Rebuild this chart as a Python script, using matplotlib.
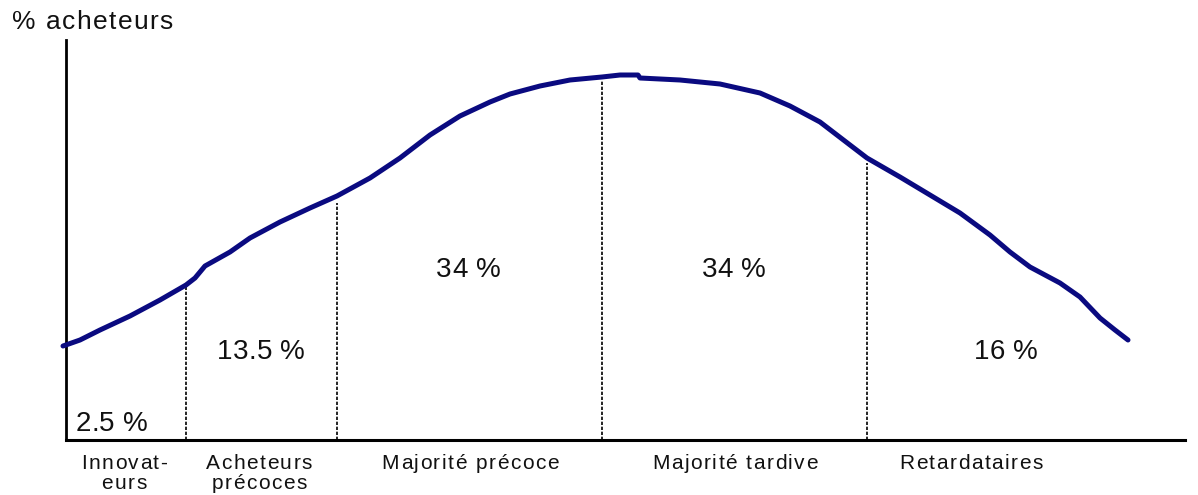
import matplotlib
matplotlib.use("Agg")
import matplotlib.pyplot as plt
from matplotlib.font_manager import FontProperties

plt.rcParams['font.family'] = ['Liberation Sans', 'DejaVu Sans']

curve_x = [63, 80, 100, 130, 160, 186, 195, 205, 230, 250, 280, 310, 337, 370, 400,
           430, 460, 490, 510, 540, 570, 602, 620, 638, 640, 680, 720, 760, 790, 820,
           850, 867, 900, 930, 960, 990, 1010, 1030, 1060, 1080, 1100, 1115, 1128]
curve_y = [346, 340, 330, 316, 300, 285, 278, 266, 252, 238, 222, 208, 196, 178, 158,
           135, 116, 102, 94, 86, 80, 77, 75, 75, 78, 80, 84, 93, 106, 122,
           145, 158, 177, 195, 213, 235, 252, 267, 283, 297, 318, 330, 340]

# Segment boundaries and their top end
bounds_x = [186, 337, 602, 867]
bounds_top = [285, 203, 80, 163]

shares = ["2.5 %", "13.5 %", "34 %", "34 %", "16 %"]
share_pos = [(111.5, 431), (261, 359), (468.5, 277), (734, 277), (1006, 359)]

categories = ["Innovat-\neurs", "Acheteurs\nprécoces", "Majorité précoce",
              "Majorité tardive", "Retardataires"]
cat_x = [124, 259, 470, 735, 971]

ylabel = "% acheteurs"

W, H = 1198, 495
fig = plt.figure(figsize=(W / 100, H / 100), dpi=100)
x0, x1, ytop, ybot = 66, 1185, 40, 440
ax = fig.add_axes([x0 / W, (H - ybot) / H, (x1 - x0) / W, (ybot - ytop) / H])
ax.set_xlim(x0, x1)
ax.set_ylim(ybot, ytop)

for s in ['top', 'right']:
    ax.spines[s].set_visible(False)
ax.spines['left'].set_linewidth(2)
ax.spines['bottom'].set_linewidth(2.2)
ax.set_xticks([])
ax.set_yticks([])

ax.plot(curve_x, curve_y, color='#0a0a80', lw=3.6, solid_capstyle='round',
        solid_joinstyle='round', clip_on=False, zorder=3)

for bx, bt in zip(bounds_x, bounds_top):
    ax.plot([bx, bx], [ybot, bt], color='black', lw=1.2, ls=(0, (2, 1.0)), zorder=2)

renderer = fig.canvas.get_renderer()


def text_w(s, fp):
    w, _, _ = renderer.get_text_width_height_descent(s + '|', fp, ismath=False)
    w0, _, _ = renderer.get_text_width_height_descent('|', fp, ismath=False)
    return w - w0


def tracked(px, baseline, s, size, track, ha='center'):
    """Draw text with extra letter spacing; px/baseline in pixels from top-left."""
    fp = FontProperties(family='Liberation Sans', size=size)
    total = text_w(s, fp) + (len(s) - 1) * track
    start = px - total / 2 if ha == 'center' else px
    for i, ch in enumerate(s):
        if ch == ' ':
            continue
        cx = start + text_w(s[:i], fp) + i * track
        fig.text(cx / W, 1 - baseline / H, ch, ha='left', va='baseline',
                 fontproperties=fp, color='#111111')


for txt, (px, py) in zip(shares, share_pos):
    tracked(px, py, txt, 20, 0.3)

for txt, cx in zip(categories, cat_x):
    for k, line in enumerate(txt.split('\n')):
        tracked(cx, 469 + 20 * k, line, 15, 1.5)

tracked(12, 29, ylabel, 19, 1.4, ha='left')

fig.savefig("out.png", dpi=100)
